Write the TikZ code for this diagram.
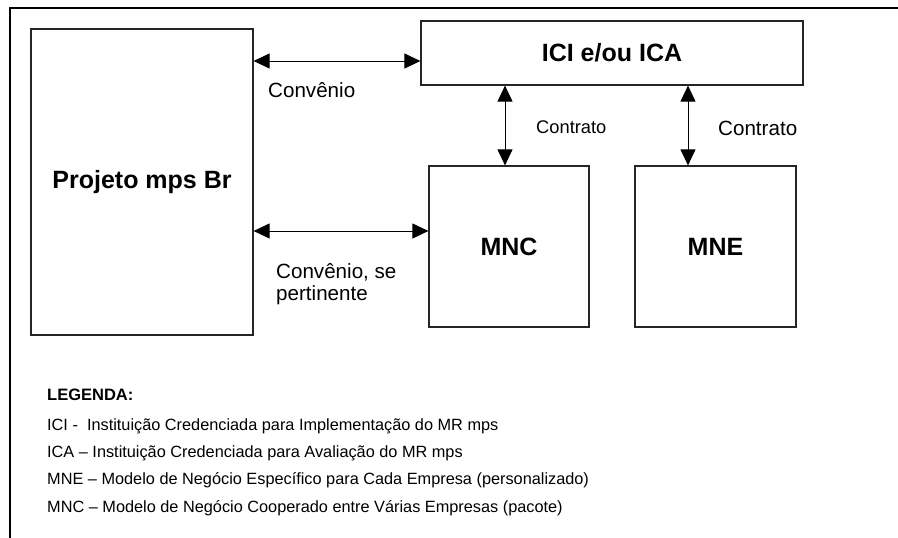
\documentclass[tikz,border=0pt]{standalone}
\usepackage{fontspec}
\setmainfont{Liberation Sans}
\usetikzlibrary{arrows.meta}
\begin{document}
\begin{tikzpicture}[x=1pt,y=-1pt,
  box/.style={draw=black!85,line width=1.2pt,inner sep=0pt,font=\fontsize{25}{29}\selectfont\bfseries},
  conn/.style={line width=1pt,{Triangle[length=16pt,width=15pt]}-{Triangle[length=16pt,width=15pt]}},
  lbl/.style={anchor=base west,inner sep=0pt,font=\fontsize{20.6}{23}\selectfont},
  leg/.style={anchor=base west,inner sep=0pt,font=\fontsize{16.3}{19}\selectfont}]
\useasboundingbox (0,0) rectangle (898,538);
% outer frame
\draw[line width=2pt] (10,538) -- (10,8) -- (898,8);
% boxes
\node[box,minimum width=222pt,minimum height=306pt] (proj) at (142,182) {Projeto mps Br};
\node[box,minimum width=382pt,minimum height=64pt] (ici) at (612,53) {ICI e/ou ICA};
\node[box,minimum width=160pt,minimum height=161pt] (mnc) at (509,246.5) {MNC};
\node[box,minimum width=161pt,minimum height=161pt] (mne) at (715.5,246.5) {MNE};
% helper coordinates
\coordinate (y1) at (0,61);
\coordinate (y2) at (0,231);
\coordinate (x1) at (505,0);
\coordinate (x2) at (688,0);
% connectors
\draw[conn] (proj.east |- y1) -- (ici.west |- y1);
\draw[conn] (proj.east |- y2) -- (mnc.west |- y2);
\draw[conn] (ici.south -| x1) -- (mnc.north -| x1);
\draw[conn] (ici.south -| x2) -- (mne.north -| x2);
% labels
\node[lbl] (l1) at (268,97) {Convênio};
\node[lbl] (l2) at (276,278) {Convênio, se};
\node[lbl] (l3) at (276,300) {pertinente};
\node[lbl,font=\fontsize{18.3}{21}\selectfont] (l4) at (536,133) {Contrato};
\node[lbl] (l5) at (718,135) {Contrato};
% legend
\node[leg,font=\fontsize{16.5}{19}\selectfont\bfseries] (lg) at (47,400) {LEGENDA:};
\node[leg] (lg1) at (47,430) {ICI -\ \ Instituição Credenciada para Implementação do MR mps};
\node[leg] (lg2) at (47,457) {ICA – Instituição Credenciada para Avaliação do MR mps};
\node[leg] (lg3) at (47,484) {MNE – Modelo de Negócio Específico para Cada Empresa (personalizado)};
\node[leg] (lg4) at (47,512) {MNC – Modelo de Negócio Cooperado entre Várias Empresas (pacote)};
\end{tikzpicture}
\end{document}
